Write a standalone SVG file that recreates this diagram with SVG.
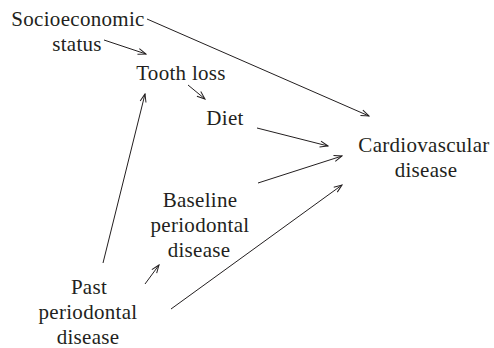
<svg xmlns="http://www.w3.org/2000/svg" width="494" height="348" viewBox="0 0 494 348">
<style>
text{font-family:"Liberation Serif","Times New Roman",serif;font-size:21px;fill:#231f20;text-anchor:middle;letter-spacing:0.3px}
.c line{stroke:#231f20;stroke-width:1;fill:none;marker-end:url(#ah)}
</style>
<defs>
<marker id="ah" markerUnits="userSpaceOnUse" viewBox="0 0 10 8" refX="9" refY="4" markerWidth="10" markerHeight="8" orient="auto">
<path d="M1,1 L9,4 L1,7" fill="none" stroke="#231f20" stroke-width="1"/>
</marker>
</defs>
<rect width="494" height="348" fill="#fff"/>
<g id="ses"><text x="78" y="26">Socioeconomic</text><text x="77" y="51">status</text></g>
<g id="tooth"><text x="181" y="80">Tooth loss</text></g>
<g id="diet"><text x="225" y="125">Diet</text></g>
<g id="cvd"><text x="424" y="152">Cardiovascular</text><text x="426" y="177">disease</text></g>
<g id="base"><text x="200" y="207">Baseline</text><text x="200" y="232">periodontal</text><text x="199" y="257">disease</text></g>
<g id="past"><text x="89" y="294">Past</text><text x="88" y="319">periodontal</text><text x="88" y="344">disease</text></g>
<g class="c" id="connectors">
<line x1="147" y1="19" x2="369" y2="116"/>
<line x1="104" y1="40" x2="146" y2="54"/>
<line x1="188" y1="85" x2="205" y2="99"/>
<line x1="257" y1="128" x2="328" y2="146"/>
<line x1="258" y1="183" x2="342" y2="156"/>
<line x1="171" y1="309" x2="342" y2="185"/>
<line x1="145" y1="284" x2="159" y2="265"/>
<line x1="103" y1="263" x2="145" y2="94"/>
</g>
</svg>
